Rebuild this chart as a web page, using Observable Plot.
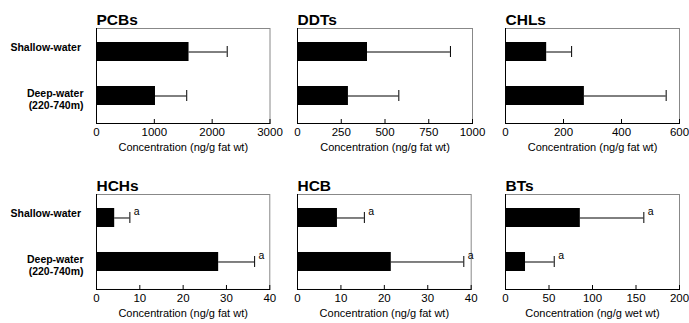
<!DOCTYPE html>
<html><head><meta charset="utf-8">
<script src="https://cdn.jsdelivr.net/npm/d3@7"></script>
<script src="https://cdn.jsdelivr.net/npm/@observablehq/plot@0.6"></script>
<style>
body{margin:0;background:#fff;}
#chart{position:relative;width:689px;height:323px;overflow:hidden;background:#fff;font-family:"Liberation Sans",Arial,sans-serif;}
#chart svg{position:absolute;}
</style></head><body><div id="chart"></div>
<script>
// ---- data ----
const categories = ["Shallow-water", "Deep-water\n(220-740m)"];
const titles = ["PCBs", "DDTs", "CHLs", "HCHs", "HCB", "BTs"];
const pcbsMean = [1600, 1020], pcbsUpper = [2260, 1560];
const ddtsMean = [400, 291],   ddtsUpper = [874, 579];
const chlsMean = [142, 272],   chlsUpper = [228, 554];
const hchsMean = [4.2, 28.2],  hchsUpper = [7.7, 36.5];
const hcbMean  = [9.2, 21.6],  hcbUpper  = [15.4, 38.3];
const btsMean  = [86, 23],     btsUpper  = [159, 56];
const pcbsTicks = [0, 1000, 2000, 3000];
const ddtsTicks = [0, 250, 500, 750, 1000];
const chlsTicks = [0, 200, 400, 600];
const hchsTicks = [0, 10, 20, 30, 40];
const hcbTicks  = [0, 10, 20, 30, 40];
const btsTicks  = [0, 50, 100, 150, 200];
const noSig = ["", ""];
const hchsSig = ["a", "a"], hcbSig = ["a", "a"], btsSig = ["a", "a"];
const unitFat = "Concentration (ng/g fat wt)";
const unitWet = "Concentration (ng/g wet wt)";

// ---- layout ----
const FH = 95;
const font = '"Liberation Sans", Arial, sans-serif';
const chart = document.getElementById("chart");

function panel(title, means, uppers, ticks, sig, unit, left, top, width, showLabels) {
  const mL = showLabels ? left : 20, mR = 14, mT = 30, mB = 40;
  const data = categories.map((c, i) => ({cat: c, mean: means[i], upper: uppers[i], sig: sig[i]}));
  const marks = [
    Plot.frame({stroke: "#888"}),
    Plot.frame({anchor: "left", stroke: "#000"}),
    Plot.frame({anchor: "bottom", stroke: "#000"}),
    Plot.ruleY(data, {y: "cat", x1: "mean", x2: "upper", stroke: "#000", strokeWidth: 1}),
    Plot.tickX(data, {x: "upper", y: "cat", insetTop: 4, insetBottom: 4, stroke: "#000", strokeWidth: 1}),
    Plot.barX(data, {x: "mean", y: "cat", fill: "#000"}),
    Plot.ruleX(ticks, {x: d => d, insetTop: FH - 4, stroke: "#000"}),
    Plot.text(ticks, {x: d => d, text: d => String(d), frameAnchor: "bottom", dy: 8.5, lineAnchor: "middle", fontSize: 11.5, fill: "#000"}),
    Plot.text([unit], {frameAnchor: "bottom", dy: 27.7, lineAnchor: "bottom", fontSize: 11, fill: "#000"}),
    Plot.text([title], {frameAnchor: "top-left", dy: -3.5, lineAnchor: "bottom", textAnchor: "start", fontSize: 15.5, fontWeight: "bold", fill: "#000"}),
    Plot.text(data, {x: "upper", y: "cat", text: "sig", dx: 4, dy: -6, textAnchor: "start", fontSize: 10.5, fill: "#000"})
  ];
  if (showLabels) {
    marks.push(Plot.text(data.slice(0, 1), {y: "cat", text: "cat", frameAnchor: "left", dx: -15.5, dy: -4, textAnchor: "end", lineAnchor: "middle", fontSize: 10.5, fontWeight: "bold", fill: "#000"}));
    marks.push(Plot.text(data.slice(1), {y: "cat", text: "cat", frameAnchor: "left", dx: -13, dy: 3, textAnchor: "end", lineAnchor: "middle", lineHeight: 1.2, fontSize: 10.5, fontWeight: "bold", fill: "#000"}));
  }
  const svg = Plot.plot({
    width: mL + width + mR, height: mT + FH + mB,
    marginLeft: mL, marginRight: mR, marginTop: mT, marginBottom: mB,
    style: {fontFamily: font, background: "transparent", color: "#000", overflow: "visible"},
    x: {domain: [0, ticks[ticks.length - 1]], axis: null},
    y: {domain: categories, axis: null, paddingInner: 0.573, paddingOuter: 0.3, insetBottom: 5},
    marks
  });
  svg.style.left = (left - mL) + "px";
  svg.style.top = (top - mT) + "px";
  chart.appendChild(svg);
}

panel(titles[0], pcbsMean, pcbsUpper, pcbsTicks, noSig, unitFat, 96, 28, 173.5, true);
panel(titles[1], ddtsMean, ddtsUpper, ddtsTicks, noSig, unitFat, 297.3, 28, 175, false);
panel(titles[2], chlsMean, chlsUpper, chlsTicks, noSig, unitFat, 505, 28, 174, false);
panel(titles[3], hchsMean, hchsUpper, hchsTicks, hchsSig, unitFat, 96, 194.3, 173.3, true);
panel(titles[4], hcbMean, hcbUpper, hcbTicks, hcbSig, unitFat, 297, 194.3, 173.7, false);
panel(titles[5], btsMean, btsUpper, btsTicks, btsSig, unitWet, 505, 194.3, 174, false);
</script></body></html>
